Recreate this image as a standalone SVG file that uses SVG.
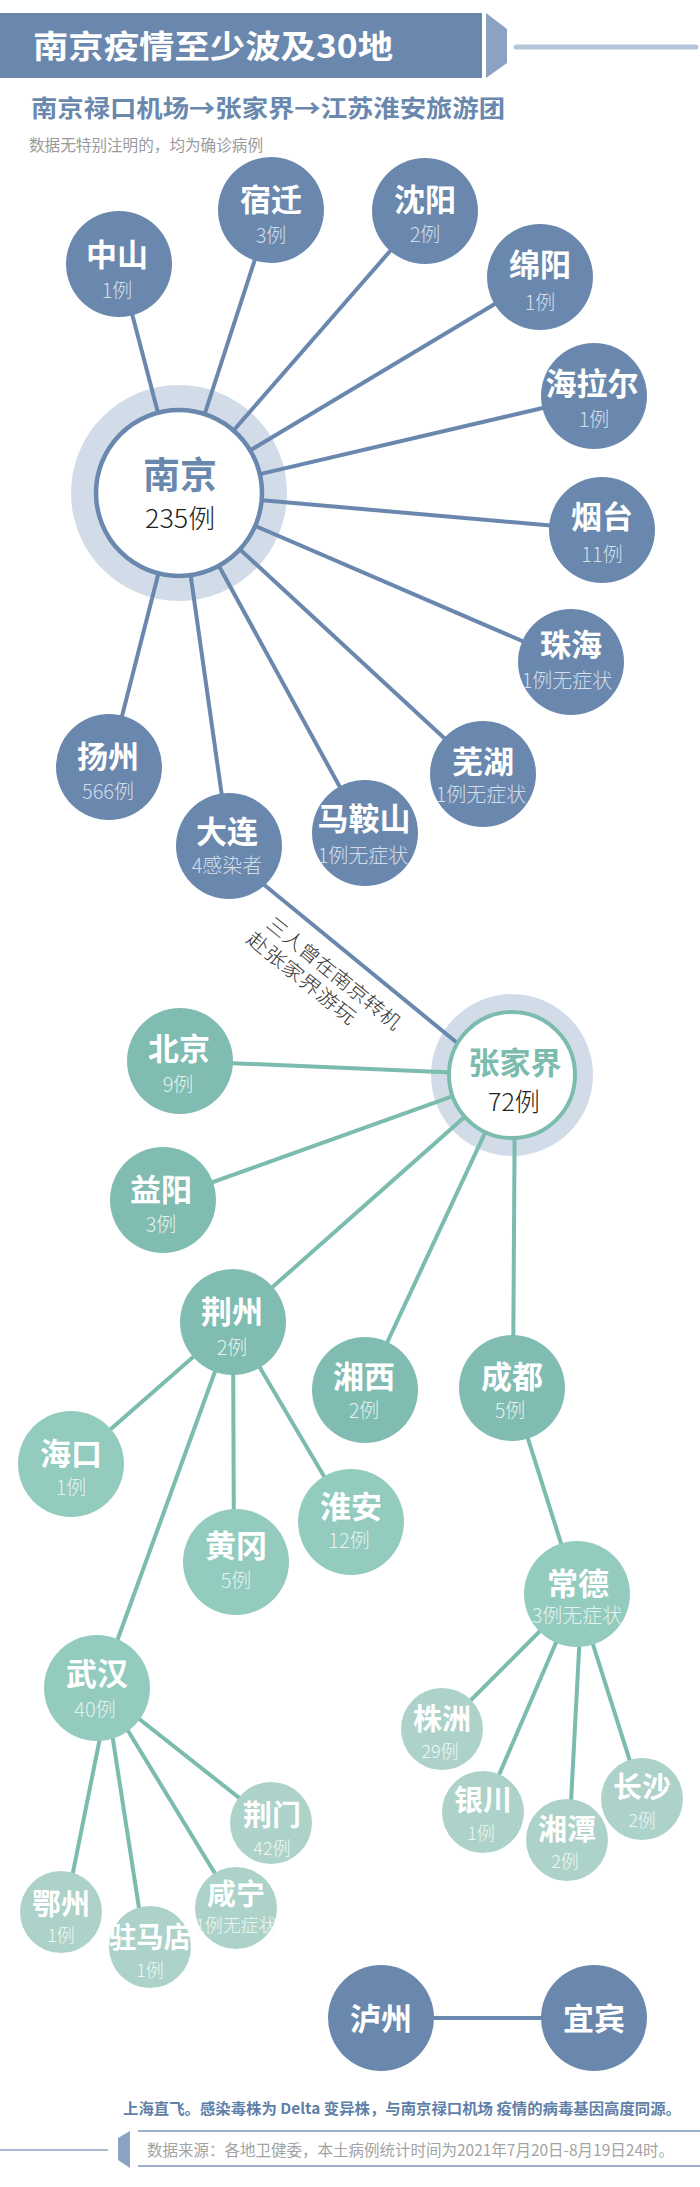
<svg xmlns="http://www.w3.org/2000/svg" width="700" height="2187" viewBox="0 0 700 2187">
<style>
text{font-family:"Noto Sans CJK SC","Noto Sans",sans-serif}
.bn{fill:#6a88ae}
.tn{fill:#80bcb1}
.tn2{fill:#94cbbf}
.sn{fill:#add2c9}
.nm{font-weight:700;font-size:31px;fill:#fff;text-anchor:middle}
.snm{font-weight:700;font-size:29px;fill:#fff;text-anchor:middle}
.ct{font-weight:300;font-size:20px;fill:#d3deea;text-anchor:middle}
.tct{font-weight:300;font-size:20px;fill:#e4f2ee;text-anchor:middle}
.sct{font-weight:300;font-size:18px;fill:#eef7f4;text-anchor:middle}
.bl{stroke:#6a88ae;stroke-width:4;fill:none}
.tl{stroke:#7bbcaf;stroke-width:4;fill:none}
.halo{fill:#d2dce8}
</style>
<rect width="700" height="2187" fill="#fff"/>
<g id="header">
<rect x="0" y="13" width="482" height="65" fill="#6a88ae"/>
<polygon points="486,13 507,29 507,63 486,78" fill="#8ba2c2"/>
<line x1="516" y1="47" x2="696" y2="47" stroke="#b5c6da" stroke-width="5" stroke-linecap="round"/>
<text x="33" y="58" font-size="32" font-weight="700" fill="#fff" textLength="360" lengthAdjust="spacingAndGlyphs">南京疫情至少波及30地</text>
<text x="31" y="117" font-size="24" font-weight="700" fill="#6a88ae" textLength="474" lengthAdjust="spacingAndGlyphs">南京禄口机场→张家界→江苏淮安旅游团</text>
<text x="29" y="151" font-size="15.5" fill="#9a9a9a" textLength="234" lengthAdjust="spacingAndGlyphs">数据无特别注明的，均为确诊病例</text>
</g>
<g id="halos">
<circle cx="179" cy="493" r="108" class="halo"/>
<circle cx="512" cy="1075" r="81" class="halo"/>
</g>
<g id="connectors">
<line class="bl" x1="179" y1="493" x2="119" y2="264"/>
<line class="bl" x1="179" y1="493" x2="271" y2="210"/>
<line class="bl" x1="179" y1="493" x2="425" y2="211"/>
<line class="bl" x1="179" y1="493" x2="540" y2="277"/>
<line class="bl" x1="179" y1="493" x2="594" y2="396"/>
<line class="bl" x1="179" y1="493" x2="602" y2="530"/>
<line class="bl" x1="179" y1="493" x2="571" y2="662"/>
<line class="bl" x1="179" y1="493" x2="483" y2="774"/>
<line class="bl" x1="179" y1="493" x2="365" y2="833"/>
<line class="bl" x1="179" y1="493" x2="229" y2="846"/>
<line class="bl" x1="179" y1="493" x2="109" y2="767"/>
<line class="bl" x1="240" y1="865" x2="500" y2="1078"/>
<line class="tl" x1="512" y1="1075" x2="180" y2="1061"/>
<line class="tl" x1="512" y1="1075" x2="163" y2="1200"/>
<line class="tl" x1="512" y1="1075" x2="233" y2="1322"/>
<line class="tl" x1="512" y1="1075" x2="365" y2="1390"/>
<line class="tl" x1="515" y1="1075" x2="513" y2="1388"/>
<line class="tl" x1="233" y1="1322" x2="71" y2="1464"/>
<line class="tl" x1="233" y1="1322" x2="234" y2="1562"/>
<line class="tl" x1="233" y1="1322" x2="351" y2="1522"/>
<line class="tl" x1="233" y1="1322" x2="100" y2="1688"/>
<line class="tl" x1="512" y1="1388" x2="577" y2="1594"/>
<line class="tl" x1="577" y1="1594" x2="442" y2="1729"/>
<line class="tl" x1="577" y1="1594" x2="483" y2="1812"/>
<line class="tl" x1="582" y1="1594" x2="569" y2="1840"/>
<line class="tl" x1="577" y1="1594" x2="642" y2="1799"/>
<line class="tl" x1="100" y1="1688" x2="271" y2="1823"/>
<line class="tl" x1="102" y1="1688" x2="236" y2="1908"/>
<line class="tl" x1="105" y1="1688" x2="145" y2="1947"/>
<line class="tl" x1="110" y1="1688" x2="65" y2="1912"/>
<line class="bl" x1="381" y1="2018" x2="594" y2="2018" stroke-width="5"/>
</g>
<g id="annotation" transform="translate(265,885) rotate(39)">
<text x="26" y="32" font-size="19" font-weight="300" fill="#333" textLength="166" lengthAdjust="spacingAndGlyphs">三人曾在南京转机</text>
<text x="20" y="56" font-size="19" font-weight="300" fill="#333" textLength="134" lengthAdjust="spacingAndGlyphs">赴张家界游玩</text>
</g>
<g id="nanjing">
<circle cx="179" cy="493" r="83" fill="#fff" stroke="#6a88ae" stroke-width="4.5"/>
<text x="180" y="489" font-size="37" font-weight="700" fill="#6a88ae" text-anchor="middle">南京</text>
<text x="180" y="528" font-size="26" font-weight="300" fill="#222" text-anchor="middle" textLength="70" lengthAdjust="spacingAndGlyphs">235例</text>
</g>
<g id="zhangjiajie">
<circle cx="512" cy="1075" r="63" fill="#fff" stroke="#7bbcaf" stroke-width="4"/>
<text x="515" y="1074" font-size="31" font-weight="700" fill="#7bbcaf" text-anchor="middle">张家界</text>
<text x="514" y="1111" font-size="25" font-weight="300" fill="#222" text-anchor="middle">72例</text>
</g>
<g id="zhongshan"><circle cx="119" cy="264" r="53" class="bn"/><text x="117" y="266" class="nm">中山</text><text x="117" y="298" class="ct">1例</text></g>
<g id="suqian"><circle cx="271" cy="210" r="53" class="bn"/><text x="271" y="211" class="nm">宿迁</text><text x="271" y="243" class="ct">3例</text></g>
<g id="shenyang"><circle cx="425" cy="211" r="53" class="bn"/><text x="425" y="211" class="nm">沈阳</text><text x="425" y="242" class="ct">2例</text></g>
<g id="mianyang"><circle cx="540" cy="277" r="53" class="bn"/><text x="540" y="276" class="nm">绵阳</text><text x="540" y="310" class="ct">1例</text></g>
<g id="hailaer"><circle cx="594" cy="396" r="53" class="bn"/><text x="592" y="395" class="nm">海拉尔</text><text x="594" y="427" class="ct">1例</text></g>
<g id="yantai"><circle cx="602" cy="530" r="53" class="bn"/><text x="602" y="528" class="nm">烟台</text><text x="602" y="562" class="ct">11例</text></g>
<g id="zhuhai"><circle cx="571" cy="662" r="53" class="bn"/><text x="571" y="656" class="nm">珠海</text><text x="567" y="688" class="ct">1例无症状</text></g>
<g id="wuhu"><circle cx="483" cy="774" r="53" class="bn"/><text x="483" y="773" class="nm">芜湖</text><text x="481" y="802" class="ct">1例无症状</text></g>
<g id="maanshan"><circle cx="365" cy="833" r="53" class="bn"/><text x="364" y="830" class="nm">马鞍山</text><text x="363" y="863" class="ct">1例无症状</text></g>
<g id="dalian"><circle cx="229" cy="846" r="53" class="bn"/><text x="227" y="843" class="nm">大连</text><text x="227" y="873" class="ct">4感染者</text></g>
<g id="yangzhou"><circle cx="109" cy="767" r="53" class="bn"/><text x="108" y="768" class="nm">扬州</text><text x="108" y="799" class="ct">566例</text></g>
<g id="beijing"><circle cx="180" cy="1061" r="53" class="tn"/><text x="179" y="1060" class="nm">北京</text><text x="178" y="1092" class="tct">9例</text></g>
<g id="yiyang"><circle cx="163" cy="1200" r="53" class="tn"/><text x="161" y="1201" class="nm">益阳</text><text x="161" y="1232" class="tct">3例</text></g>
<g id="jingzhou"><circle cx="233" cy="1322" r="53" class="tn"/><text x="232" y="1323" class="nm">荆州</text><text x="232" y="1355" class="tct">2例</text></g>
<g id="xiangxi"><circle cx="365" cy="1390" r="53" class="tn"/><text x="364" y="1388" class="nm">湘西</text><text x="364" y="1418" class="tct">2例</text></g>
<g id="chengdu"><circle cx="512" cy="1388" r="53" class="tn"/><text x="512" y="1388" class="nm">成都</text><text x="510" y="1418" class="tct">5例</text></g>
<g id="haikou"><circle cx="71" cy="1464" r="53" class="tn2"/><text x="71" y="1465" class="nm">海口</text><text x="71" y="1495" class="tct">1例</text></g>
<g id="huanggang"><circle cx="236" cy="1562" r="53" class="tn2"/><text x="236" y="1557" class="nm">黄冈</text><text x="236" y="1588" class="tct">5例</text></g>
<g id="huaian"><circle cx="351" cy="1522" r="53" class="tn2"/><text x="351" y="1518" class="nm">淮安</text><text x="349" y="1548" class="tct">12例</text></g>
<g id="wuhan"><circle cx="97" cy="1688" r="53" class="tn2"/><text x="97" y="1685" class="nm">武汉</text><text x="95" y="1717" class="tct">40例</text></g>
<g id="changde"><circle cx="577" cy="1594" r="53" class="tn2"/><text x="578" y="1595" class="nm">常德</text><text x="577" y="1623" class="tct">3例无症状</text></g>
<g id="zhuzhou"><circle cx="442" cy="1729" r="41" class="sn"/><text x="442" y="1730" class="snm">株洲</text><text x="440" y="1758" class="sct">29例</text></g>
<g id="yinchuan"><circle cx="483" cy="1812" r="41" class="sn"/><text x="483" y="1811" class="snm">银川</text><text x="481" y="1840" class="sct">1例</text></g>
<g id="xiangtan"><circle cx="567" cy="1840" r="41" class="sn"/><text x="567" y="1840" class="snm">湘潭</text><text x="565" y="1868" class="sct">2例</text></g>
<g id="changsha"><circle cx="642" cy="1799" r="41" class="sn"/><text x="642" y="1798" class="snm">长沙</text><text x="642" y="1827" class="sct">2例</text></g>
<g id="jingmen"><circle cx="271" cy="1823" r="41" class="sn"/><text x="272" y="1826" class="snm">荆门</text><text x="272" y="1855" class="sct">42例</text></g>
<g id="ezhou"><circle cx="61" cy="1912" r="41" class="sn"/><text x="61" y="1915" class="snm">鄂州</text><text x="61" y="1942" class="sct">1例</text></g>
<g id="zhumadian"><circle cx="150" cy="1947" r="41" class="sn"/><text x="150" y="1948" class="snm" font-size="27" textLength="82" lengthAdjust="spacingAndGlyphs">驻马店</text><text x="150" y="1977" class="sct">1例</text></g>
<g id="xianning"><circle cx="236" cy="1908" r="41" class="sn"/><text x="236" y="1905" class="snm">咸宁</text><text x="236" y="1932" class="sct" font-size="15.5">1例无症状</text></g>
<g id="luzhou"><circle cx="381" cy="2018" r="53" class="bn"/><text x="381" y="2030" class="nm">泸州</text></g>
<g id="yibin"><circle cx="594" cy="2018" r="53" class="bn"/><text x="594" y="2030" class="nm">宜宾</text></g>
<g id="footer">
<text x="123" y="2114" font-size="15" font-weight="700" fill="#5f7fa8" textLength="558" lengthAdjust="spacingAndGlyphs">上海直飞。感染毒株为 Delta 变异株，与南京禄口机场 疫情的病毒基因高度同源。</text>
<line x1="138" y1="2131" x2="700" y2="2131" stroke="#7d97bb" stroke-width="1.5"/>
<line x1="138" y1="2166" x2="700" y2="2166" stroke="#7d97bb" stroke-width="1.5"/>
<line x1="0" y1="2150" x2="108" y2="2150" stroke="#8ba2c2" stroke-width="1.5"/>
<polygon points="118,2138 130,2131 130,2168 118,2160" fill="#8ba2c2"/>
<text x="147" y="2156" font-size="15.5" fill="#a3a3a3" textLength="527" lengthAdjust="spacingAndGlyphs">数据来源：各地卫健委，本土病例统计时间为2021年7月20日-8月19日24时。</text>
</g>
</svg>
